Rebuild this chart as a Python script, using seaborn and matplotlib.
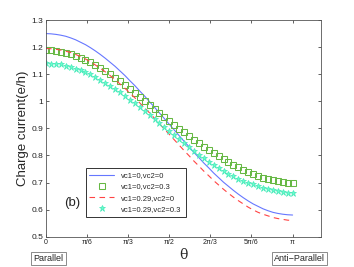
import numpy as np
import pandas as pd
import seaborn as sns
import matplotlib
matplotlib.use("Agg")
import matplotlib.pyplot as plt

## Data (51 samples, theta from 0 to pi)
theta = np.linspace(0, np.pi, 51)

blue_vc1_0_vc2_0 = [1.250, 1.249, 1.247, 1.244, 1.240, 1.234, 1.227, 1.218, 1.209, 1.198,
                    1.186, 1.173, 1.159, 1.144, 1.129, 1.112, 1.095, 1.076, 1.058, 1.038,
                    1.019, 0.998, 0.978, 0.957, 0.936, 0.915, 0.894, 0.873, 0.852, 0.832,
                    0.811, 0.792, 0.772, 0.754, 0.735, 0.718, 0.701, 0.686, 0.671, 0.657,
                    0.644, 0.632, 0.621, 0.612, 0.603, 0.596, 0.590, 0.586, 0.583, 0.581,
                    0.580]

green_vc1_0_vc2_03 = [1.190, 1.188, 1.186, 1.183, 1.178, 1.173, 1.168, 1.161, 1.153, 1.144,
                      1.134, 1.124, 1.113, 1.101, 1.087, 1.074, 1.060, 1.045, 1.030, 1.016,
                      1.001, 0.986, 0.971, 0.957, 0.941, 0.927, 0.913, 0.899, 0.885, 0.872,
                      0.858, 0.846, 0.833, 0.821, 0.809, 0.797, 0.786, 0.775, 0.765, 0.756,
                      0.747, 0.738, 0.730, 0.724, 0.718, 0.712, 0.708, 0.705, 0.702, 0.700,
                      0.700]

red_vc1_029_vc2_0 = [1.195, 1.194, 1.192, 1.189, 1.185, 1.180, 1.173, 1.165, 1.156, 1.146,
                     1.134, 1.122, 1.109, 1.095, 1.080, 1.064, 1.048, 1.031, 1.013, 0.994,
                     0.976, 0.957, 0.937, 0.917, 0.897, 0.878, 0.858, 0.838, 0.818, 0.799,
                     0.779, 0.761, 0.742, 0.725, 0.707, 0.691, 0.675, 0.660, 0.646, 0.633,
                     0.621, 0.609, 0.599, 0.590, 0.583, 0.577, 0.571, 0.567, 0.564, 0.561,
                     0.560]

cyan_vc1_029_vc2_03 = [1.140, 1.139, 1.138, 1.136, 1.132, 1.126, 1.121, 1.114, 1.107, 1.099,
                       1.090, 1.080, 1.069, 1.058, 1.045, 1.033, 1.019, 1.006, 0.993, 0.979,
                       0.965, 0.950, 0.936, 0.921, 0.906, 0.891, 0.876, 0.861, 0.846, 0.832,
                       0.817, 0.803, 0.789, 0.776, 0.763, 0.752, 0.741, 0.732, 0.723, 0.714,
                       0.707, 0.700, 0.693, 0.686, 0.681, 0.676, 0.672, 0.668, 0.665, 0.663,
                       0.662]

labels = ["vc1=0,vc2=0", "vc1=0,vc2=0.3", "vc1=0.29,vc2=0", "vc1=0.29,vc2=0.3"]
xtick_vals = [0, np.pi / 6, np.pi / 3, np.pi / 2, 2 * np.pi / 3, 5 * np.pi / 6, np.pi]
xtick_labels = ["0", "π/6", "π/3", "π/2", "2π/3", "5π/6", "π"]
ytick_vals = [0.5, 0.6, 0.7, 0.8, 0.9, 1.0, 1.1, 1.2, 1.3]
ytick_labels = ["0.5", "0.6", "0.7", "0.8", "0.9", "1", "1.1", "1.2", "1.3"]

df = pd.DataFrame({
    "theta": theta,
    labels[0]: blue_vc1_0_vc2_0,
    labels[1]: green_vc1_0_vc2_03,
    labels[2]: red_vc1_029_vc2_0,
    labels[3]: cyan_vc1_029_vc2_03,
})

sns.set_style("ticks")
plt.rcParams["font.family"] = ["Liberation Sans", "DejaVu Sans"]

fig = plt.figure(figsize=(3.54, 2.67), dpi=100)
ax = fig.add_axes([0.130, 0.1135, 0.776, 0.8115])

## Plot curves
sns.lineplot(data=df, x="theta", y=labels[0], ax=ax, color="#6677ff",
             linewidth=0.8, label=labels[0])
sns.lineplot(data=df, x="theta", y=labels[1], ax=ax, color="#66b844",
             linestyle="none", marker="s", markersize=3.8, markerfacecolor="none",
             markeredgecolor="#66b844", markeredgewidth=0.75, label=labels[1])
sns.lineplot(data=df, x="theta", y=labels[2], ax=ax, color="#ff4444",
             linewidth=0.8, linestyle=(0, (5, 4)), label=labels[2])
sns.lineplot(data=df, x="theta", y=labels[3], ax=ax, color="#44eebb",
             linestyle="none", marker="*", markersize=4.5, markerfacecolor="#66ffcc",
             markeredgecolor="#44e8b8", markeredgewidth=0.5, label=labels[3])

ax.set_xlim(0, 3.5)
ax.set_ylim(0.5, 1.3)
ax.set_xticks(xtick_vals)
ax.set_xticklabels(xtick_labels, fontsize=5)
ax.set_yticks(ytick_vals)
ax.set_yticklabels(ytick_labels, fontsize=6)
ax.tick_params(direction="in", length=2.5, width=0.5, top=True, right=True,
               pad=2, colors="#222222")
for s in ax.spines.values():
    s.set_linewidth(0.6)
    s.set_color("#555555")

ax.set_xlabel("θ", fontsize=10, family=["DejaVu Serif"], labelpad=1)
ax.set_ylabel("Charge current(e/h)", fontsize=9.5, labelpad=2)

ax.legend(loc="lower left", bbox_to_anchor=(0.13, 0.075), fontsize=5.5,
          frameon=True, fancybox=False, edgecolor="#333333", framealpha=1,
          handlelength=3.2, borderpad=0.5, labelspacing=0.5, handletextpad=1.0)
ax.get_legend().get_frame().set_linewidth(0.7)

ax.text(0.065, 0.14, "(b)", transform=ax.transAxes, fontsize=9.5)

box = dict(boxstyle="square,pad=0.25", facecolor="white", edgecolor="#777777", linewidth=0.6)
fig.text(0.095, 0.022, "Parallel", fontsize=6.5, bbox=box)
fig.text(0.775, 0.022, "Anti\u2212Parallel", fontsize=6.5, bbox=box)

fig.savefig("out.png", dpi=100)
